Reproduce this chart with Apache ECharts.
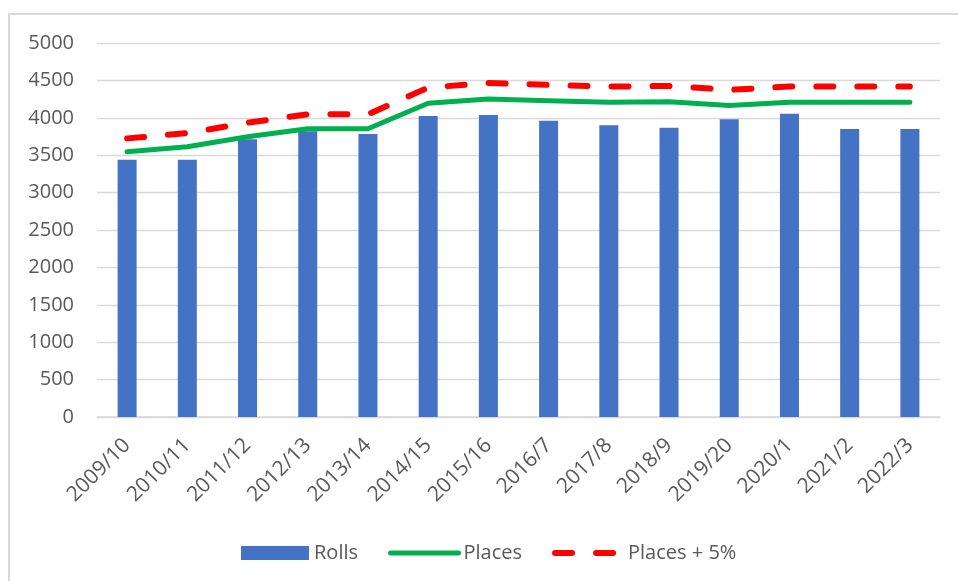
<!DOCTYPE html>
<html>
<head>
<meta charset="utf-8">
<title>Rolls and places</title>
<script src="https://cdn.jsdelivr.net/npm/echarts@6/dist/echarts.min.js"></script>
<style>
  html, body { margin: 0; padding: 0; background: #fff; overflow: hidden; }
  .frame {
    position: absolute; left: 8px; top: 13px;
    width: 1000px; height: 620px;
    border: 2px solid #d9d9d9;
  }
  #chart { position: absolute; left: 0; top: 0; width: 958px; height: 581px; }
</style>
</head>
<body>
<div class="frame"></div>
<div id="chart"></div>
<script>
// categories (school years)
const categories = ['2009/10', '2010/11', '2011/12', '2012/13', '2013/14', '2014/15', '2015/16',
  '2016/7', '2017/8', '2018/9', '2019/20', '2020/1', '2021/2', '2022/3'];

// series values
const rolls = [3440, 3440, 3712, 3820, 3783, 4024, 4037, 3961, 3899, 3868, 3979, 4055, 3850, 3850];
const places = [3547, 3614, 3747, 3854, 3854, 4194, 4251, 4229, 4207, 4215, 4166, 4207, 4207, 4207];
const placesPlus5 = [3725, 3795, 3934, 4047, 4047, 4404, 4464, 4440, 4417, 4426, 4374, 4417, 4417, 4417];

const textColor = '#595959';
const fontFamily = '"Open Sans", "Liberation Sans", sans-serif';

const chart = echarts.init(document.getElementById('chart'));

const option = {
  animation: false,
  textStyle: { fontFamily: fontFamily },
  grid: {
    left: 97,
    right: 18,
    top: 43,
    bottom: 164
  },
  legend: {
    left: 236,
    top: 538,
    itemWidth: 68,
    itemHeight: 14,
    itemGap: 30,
    textStyle: { color: textColor, fontSize: 20, fontFamily: fontFamily },
    data: [
      { name: 'Rolls', icon: 'rect' },
      { name: 'Places', itemStyle: { opacity: 0 }, lineStyle: { width: 5, color: '#00b050' } },
      { name: 'Places + 5%', itemStyle: { opacity: 0 }, lineStyle: { width: 6, color: '#ff0000', type: [17, 24], cap: 'round' } }
    ]
  },
  xAxis: {
    type: 'category',
    data: categories,
    axisLine: { lineStyle: { color: '#d9d9d9', width: 1.5 } },
    axisTick: { show: false },
    axisLabel: {
      color: textColor,
      fontSize: 21,
      rotate: 45,
      interval: 0,
      margin: 25
    }
  },
  yAxis: {
    type: 'value',
    min: 0,
    max: 5000,
    interval: 500,
    axisLine: { show: false },
    axisTick: { show: false },
    axisLabel: {
      color: textColor,
      fontSize: 20,
      margin: 23,
      formatter: function (v) { return String(v); }
    },
    splitLine: { lineStyle: { color: '#d9d9d9', width: 1.3 } }
  },
  series: [
    {
      name: 'Rolls',
      type: 'bar',
      data: rolls,
      barWidth: 19,
      itemStyle: { color: '#4472c4' }
    },
    {
      name: 'Places',
      type: 'line',
      data: places,
      symbol: 'none',
      lineStyle: { color: '#00b050', width: 5, cap: 'round', join: 'round' },
      itemStyle: { color: '#00b050' }
    },
    {
      name: 'Places + 5%',
      type: 'line',
      data: placesPlus5,
      symbol: 'none',
      lineStyle: { color: '#ff0000', width: 6, type: [17, 24], cap: 'round', join: 'round' },
      itemStyle: { color: '#ff0000' }
    }
  ]
};

chart.setOption(option);
</script>
</body>
</html>
